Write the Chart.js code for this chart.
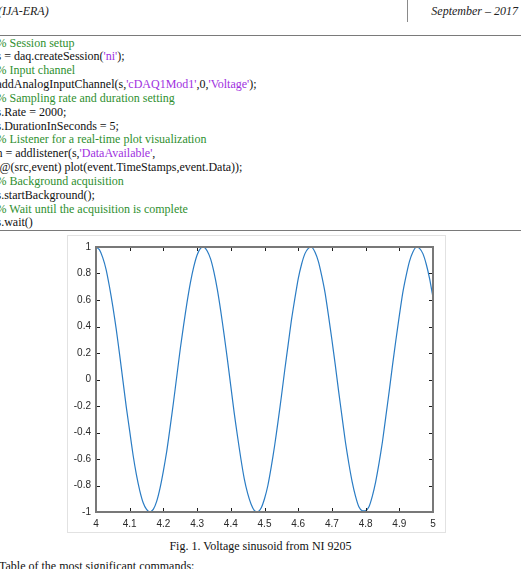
<!DOCTYPE html>
<html>
<head>
<meta charset="utf-8">
<script src="https://cdn.jsdelivr.net/npm/chart.js@4.4.1/dist/chart.umd.min.js"></script>
<style>
  html, body { margin: 0; padding: 0; background: #fff; }
  body { position: relative; width: 521px; height: 569px; overflow: hidden; font-family: "Liberation Serif", "Times New Roman", serif; color: #111; }
  .hdr { position: absolute; top: 4px; font-style: italic; font-size: 12px; color: #222; white-space: nowrap; }
  .vline { position: absolute; left: 407px; top: 0; width: 1px; height: 22px; background: #8a8a8a; }
  .hline { position: absolute; left: 0; width: 521px; height: 1px; background: #7a7a7a; }
  .code { position: absolute; left: -3.5px; top: 36.5px; font-size: 12px; line-height: 13.85px; white-space: pre; }
  .cm { color: #2f8f2f; }
  .st { color: #a030e0; }
  .fig { position: absolute; left: 67px; top: 235px; width: 377px; height: 296px; border: 1px solid #e2e2e2; background: #fff; }
  .cap { position: absolute; left: 0; width: 521px; top: 539px; text-align: center; font-size: 12px; white-space: nowrap; }
  .txt { position: absolute; left: -1px; top: 559px; font-size: 12px; white-space: nowrap; }
</style>
</head>
<body>
<div class="hdr" style="left:-2px">(IJA-ERA)</div>
<div class="vline"></div>
<div class="hdr" style="right:3px">September – 2017</div>
<div class="hline" style="top:35px"></div>
<div class="code"><span class="cm">% Session setup</span>
s = daq.createSession(<span class="st">'ni'</span>);
<span class="cm">% Input channel</span>
addAnalogInputChannel(s,<span class="st">'cDAQ1Mod1'</span>,0,<span class="st">'Voltage'</span>);
<span class="cm">% Sampling rate and duration setting</span>
s.Rate = 2000;
s.DurationInSeconds = 5;
<span class="cm">% Listener for a real-time plot visualization</span>
h = addlistener(s,<span class="st">'DataAvailable'</span>,
 @(src,event) plot(event.TimeStamps,event.Data));
<span class="cm">% Background acquisition</span>
s.startBackground();
<span class="cm">% Wait until the acquisition is complete</span>
s.wait()</div>
<div class="hline" style="top:230px"></div>
<div class="fig"><canvas id="voltChart" width="377" height="296"></canvas></div>
<div class="cap">Fig. 1. Voltage sinusoid from NI 9205</div>
<div class="txt">Table of the most significant commands:</div>

<script>
// time stamps (s), every 0.01 s
const times = [
  4.00, 4.01, 4.02, 4.03, 4.04, 4.05, 4.06, 4.07, 4.08, 4.09,
  4.10, 4.11, 4.12, 4.13, 4.14, 4.15, 4.16, 4.17, 4.18, 4.19,
  4.20, 4.21, 4.22, 4.23, 4.24, 4.25, 4.26, 4.27, 4.28, 4.29,
  4.30, 4.31, 4.32, 4.33, 4.34, 4.35, 4.36, 4.37, 4.38, 4.39,
  4.40, 4.41, 4.42, 4.43, 4.44, 4.45, 4.46, 4.47, 4.48, 4.49,
  4.50, 4.51, 4.52, 4.53, 4.54, 4.55, 4.56, 4.57, 4.58, 4.59,
  4.60, 4.61, 4.62, 4.63, 4.64, 4.65, 4.66, 4.67, 4.68, 4.69,
  4.70, 4.71, 4.72, 4.73, 4.74, 4.75, 4.76, 4.77, 4.78, 4.79,
  4.80, 4.81, 4.82, 4.83, 4.84, 4.85, 4.86, 4.87, 4.88, 4.89,
  4.90, 4.91, 4.92, 4.93, 4.94, 4.95, 4.96, 4.97, 4.98, 4.99,
  5.00
];

// measured voltage (V)
const volts = [
   1.00,  0.98,  0.92,  0.83,  0.70,  0.55,  0.38,  0.19, -0.01, -0.21,
  -0.39, -0.57, -0.72, -0.84, -0.93, -0.98, -1.00, -0.98, -0.92, -0.82,
  -0.69, -0.54, -0.36, -0.17,  0.03,  0.23,  0.41,  0.58,  0.73,  0.85,
   0.94,  0.99,  1.00,  0.97,  0.91,  0.81,  0.68,  0.52,  0.34,  0.15,
  -0.05, -0.25, -0.43, -0.60, -0.75, -0.86, -0.94, -0.99, -1.00, -0.97,
  -0.90, -0.80, -0.66, -0.50, -0.32, -0.13,  0.07,  0.26,  0.45,  0.61,
   0.76,  0.87,  0.95,  0.99,  1.00,  0.96,  0.89,  0.78,  0.65,  0.48,
   0.30,  0.11, -0.09, -0.28, -0.47, -0.63, -0.77, -0.88, -0.96, -0.99,
  -0.99, -0.96, -0.88, -0.77, -0.63, -0.47, -0.28, -0.09,  0.11,  0.30,
   0.48,  0.65,  0.78,  0.89,  0.96,  1.00,  0.99,  0.95,  0.87,  0.76,
   0.62
];

// axis settings
const xRange = [4, 5];
const yRange = [-1, 1];
const xStep = 0.1;
const yStep = 0.2;

// MATLAB style box with inward ticks on all four sides
const boxAxes = {
  id: 'boxAxes',
  afterDraw(chart) {
    const { ctx, chartArea: a, scales: { x, y } } = chart;
    ctx.save();
    ctx.strokeStyle = '#1e1e1e';
    ctx.lineWidth = 1;
    ctx.beginPath();
    x.ticks.forEach(t => {
      const px = Math.round(x.getPixelForValue(t.value)) + 0.5;
      ctx.moveTo(px, a.bottom); ctx.lineTo(px, a.bottom - 4);
      ctx.moveTo(px, a.top); ctx.lineTo(px, a.top + 4);
    });
    y.ticks.forEach(t => {
      const py = Math.round(y.getPixelForValue(t.value)) + 0.5;
      ctx.moveTo(a.left, py); ctx.lineTo(a.left + 4, py);
      ctx.moveTo(a.right, py); ctx.lineTo(a.right - 4, py);
    });
    ctx.stroke();
    ctx.strokeStyle = '#787878';
    ctx.lineWidth = 2;
    ctx.strokeRect(a.left, a.top, a.right - a.left, a.bottom - a.top);
    ctx.restore();
  }
};

const tickFont = { family: '"Liberation Sans", Arial, sans-serif', size: 10 };
// MATLAB drops trailing zeros: 4, 4.1 ... 1, 0.8
const plainNum = v => String(Number(v.toFixed(2)));

new Chart(document.getElementById('voltChart'), {
  type: 'line',
  data: {
    datasets: [{
      data: times.map((t, i) => ({ x: t, y: volts[i] })),
      borderColor: '#2a7cc4',
      borderWidth: 1.2,
      pointRadius: 0,
      tension: 0.2,
      fill: false
    }]
  },
  options: {
    responsive: false,
    animation: false,
    events: [],
    layout: { padding: { left: 0, right: 12, top: 10, bottom: 0 } },
    plugins: { legend: { display: false }, tooltip: { enabled: false } },
    scales: {
      x: {
        type: 'linear',
        min: xRange[0],
        max: xRange[1],
        grid: { display: false, drawTicks: false },
        border: { display: false },
        ticks: { stepSize: xStep, autoSkip: false, maxRotation: 0, padding: 6, color: '#2a2a2a', font: tickFont, callback: plainNum },
        afterFit(scale) { scale.height = 20; }
      },
      y: {
        min: yRange[0],
        max: yRange[1],
        grid: { display: false, drawTicks: false },
        border: { display: false },
        ticks: { stepSize: yStep, autoSkip: false, padding: 5, color: '#2a2a2a', font: tickFont, callback: plainNum },
        afterFit(scale) { scale.width = 28; }
      }
    }
  },
  plugins: [boxAxes]
});
</script>
</body>
</html>
